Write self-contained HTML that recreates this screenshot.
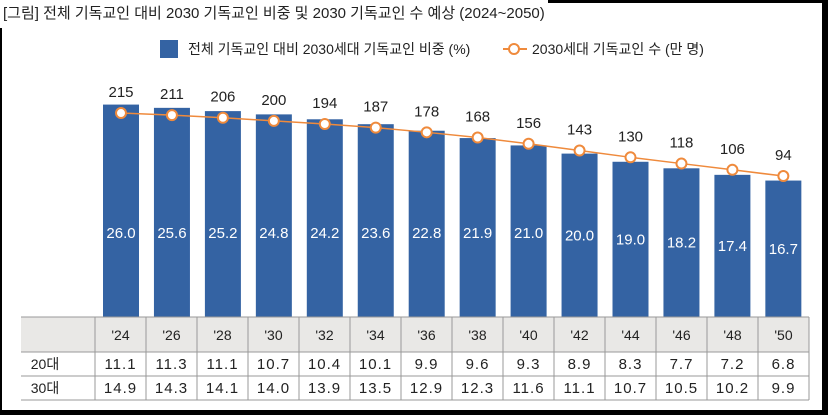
<!DOCTYPE html>
<html><head><meta charset="utf-8"><style>
body{margin:0;width:828px;height:415px;background:#000;overflow:hidden;font-family:"Liberation Sans","Noto Sans CJK KR",sans-serif}
#panel{position:absolute;left:2px;top:3px;width:820px;height:407px;background:#fff}
#title{position:absolute;left:0;top:0;width:548px;height:28px;background:#fff;font-size:15px;color:#222;line-height:28px;padding-left:3px;box-sizing:border-box}
svg{position:absolute;left:0;top:0}
</style></head><body>
<div id="panel"></div>
<div id="title">[그림] 전체 기독교인 대비 2030 기독교인 비중 및 2030 기독교인 수 예상 (2024~2050)</div>
<svg id="chart" width="828" height="415"></svg>
<script>
const years=["'24","'26","'28","'30","'32","'34","'36","'38","'40","'42","'44","'46","'48","'50"];
const shares=[26.0,25.6,25.2,24.8,24.2,23.6,22.8,21.9,21.0,20.0,19.0,18.2,17.4,16.7];
const counts=[215,211,206,200,194,187,178,168,156,143,130,118,106,94];
const row20=["11.1","11.3","11.1","10.7","10.4","10.1","9.9","9.6","9.3","8.9","8.3","7.7","7.2","6.8"];
const row30=["14.9","14.3","14.1","14.0","13.9","13.5","12.9","12.3","11.6","11.1","10.7","10.5","10.2","9.9"];
const rowLabels=["20대","30대"];

const svg=document.getElementById('chart');
const NS='http://www.w3.org/2000/svg';
function mk(tag,attrs,parent){const e=document.createElementNS(NS,tag);for(const k in attrs)e.setAttribute(k,attrs[k]);(parent||svg).appendChild(e);return e;}
const step=50.95, x0=121;
const xC=i=>x0+i*step;
const yBar=v=>317-v*8.17;
const yLine=v=>225-v*0.5207;
const BLUE='#3463a3', OR='#ef8a3c';

let e=mk('rect',{x:160,y:40,width:18,height:18,fill:BLUE});

e=mk('text',{x:188,y:54,'font-size':14,fill:'#222'});e.textContent='전체 기독교인 대비 2030세대 기독교인 비중 (%)';

e=mk('line',{x1:503,y1:49,x2:527,y2:49,stroke:OR,'stroke-width':2});

e=mk('circle',{cx:514,cy:49,r:5,fill:'#fff',stroke:OR,'stroke-width':2});

e=mk('text',{x:532,y:54,'font-size':14,fill:'#222'});e.textContent='2030세대 기독교인 수 (만 명)';


shares.forEach((v,i)=>{
  const y=yBar(v);
  const r=mk('rect',{x:xC(i)-18,y:y,width:36,height:317-y,fill:BLUE});
  
  
  const ly=Math.max((y+317)/2,233)+5;
  const t=mk('text',{x:xC(i),y:ly,'font-size':15,fill:'#fff','text-anchor':'middle'});
  t.textContent=v.toFixed(1);
  
  
});
const pts=counts.map((v,i)=>xC(i)+','+yLine(v)).join(' ');
e=mk('polyline',{points:pts,fill:'none',stroke:OR,'stroke-width':1.5});

counts.forEach((v,i)=>{
  const c=mk('circle',{cx:xC(i),cy:yLine(v),r:5,fill:'#fff',stroke:OR,'stroke-width':2});
  
  
  const t=mk('text',{x:xC(i),y:yLine(v)-16,'font-size':15,fill:'#222','text-anchor':'middle'});
  t.textContent=v;
  
  
});

const tL=21,c0=95,cw=51,tR=c0+14*cw;
e=mk('rect',{x:tL,y:317,width:tR-tL,height:35,fill:'#e9e8e6'});

[317,352,376,400].forEach(y=>{const l=mk('line',{x1:tL,y1:y,x2:tR,y2:y,stroke:'#999','stroke-width':1});
});
for(let i=0;i<=14;i++){const l=mk('line',{x1:c0+i*cw,y1:317,x2:c0+i*cw,y2:400,stroke:'#999','stroke-width':1});
}
years.forEach((y,i)=>{
  const t=mk('text',{x:c0+i*cw+cw/2,y:340,'font-size':14,fill:'#222','text-anchor':'middle'});
  t.textContent=y;
  
  
});
[row20,row30].forEach((row,r)=>{
  const yy=369+r*24;
  const lt=mk('text',{x:45,y:yy,'font-size':14,fill:'#222','text-anchor':'middle'});
  lt.textContent=rowLabels[r];
  
  
  row.forEach((v,i)=>{
    const t=mk('text',{x:c0+i*cw+cw/2,y:yy,'font-size':15,fill:'#222','text-anchor':'middle','letter-spacing':'1'});
    t.textContent=v;
    
    
  });
});
</script>
</body></html>
